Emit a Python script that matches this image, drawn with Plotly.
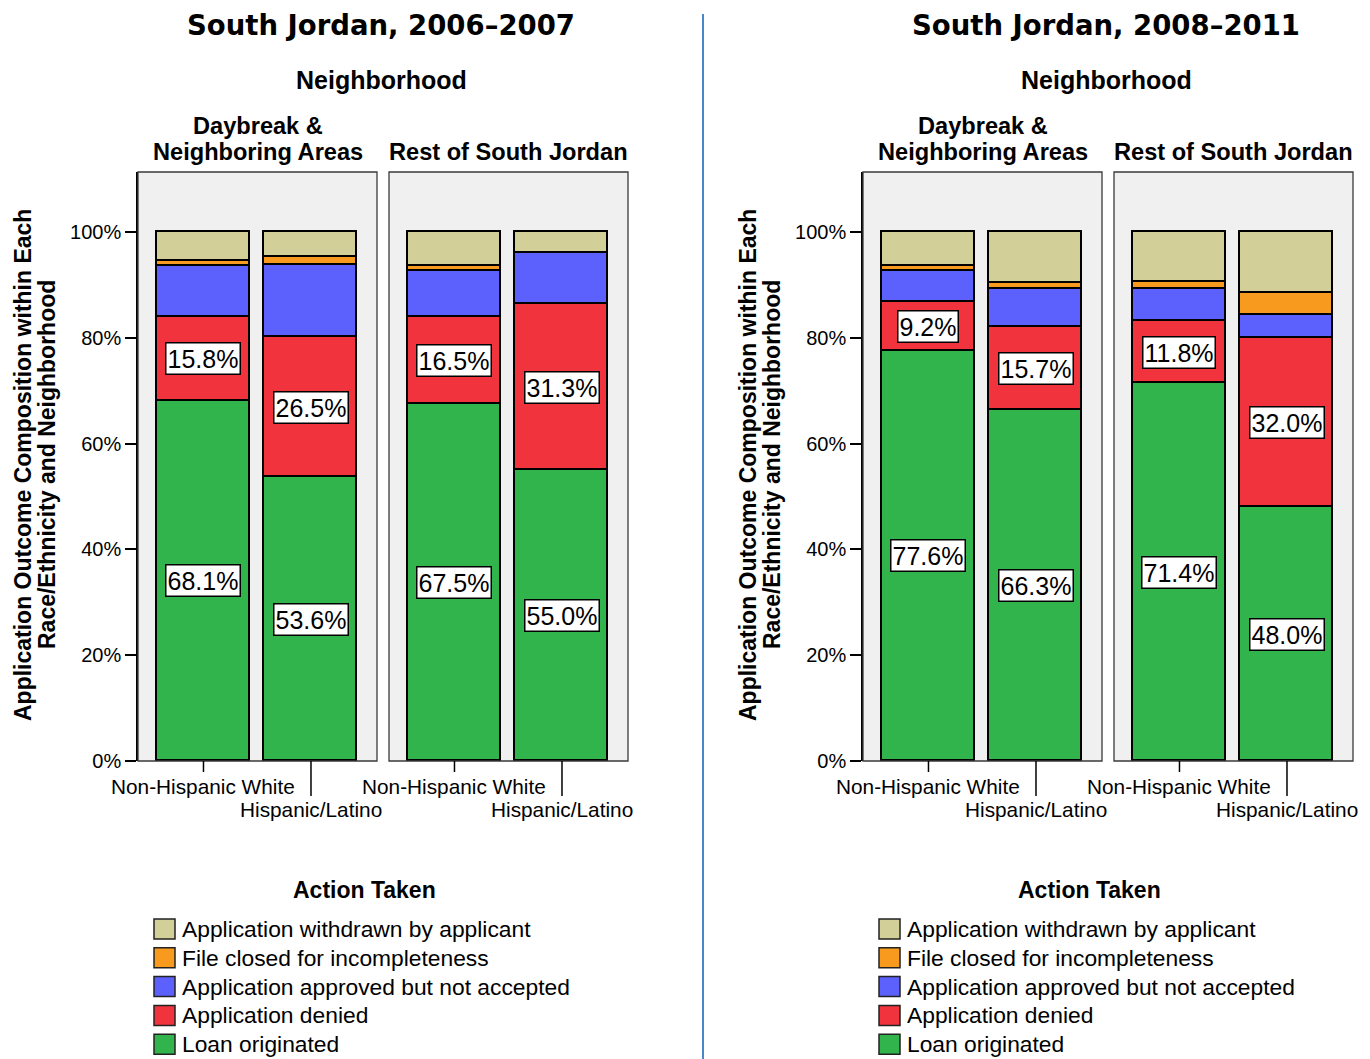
import plotly.graph_objects as go

# ---- data -------------------------------------------------------------
periods = ["2006–2007", "2008–2011"]
neighborhoods = [["Daybreak &", "Neighboring Areas"], ["Rest of South Jordan"]]
groups = ["Non-Hispanic White", "Hispanic/Latino"]
actions = [
    "Loan originated",
    "Application denied",
    "Application approved but not accepted",
    "File closed for incompleteness",
    "Application withdrawn by applicant",
]
# per period: [Daybreak NHW, Daybreak Hisp, Rest NHW, Rest Hisp] (percent)
loan_originated = [[68.1, 53.6, 67.5, 55.0], [77.6, 66.3, 71.4, 48.0]]
application_denied = [[15.8, 26.5, 16.5, 31.3], [9.2, 15.7, 11.8, 32.0]]
approved_not_accepted = [[9.7, 13.6, 8.6, 9.7], [5.8, 7.2, 6.0, 4.4]]
file_closed = [[1.0, 1.6, 0.9, 0.0], [1.0, 1.2, 1.3, 4.1]]
withdrawn = [[5.4, 4.7, 6.5, 4.0], [6.4, 9.6, 9.5, 11.5]]
labelled_series = [0, 1]  # series whose values are printed on the bars
y_ticks = [0, 20, 40, 60, 80, 100]

series = [loan_originated, application_denied, approved_not_accepted,
          file_closed, withdrawn]
colors = ["#30b44b", "#f1333d", "#5c60fd", "#f89a1e", "#d3cf99"]

# ---- page geometry (pixels) ------------------------------------------
W, H = 1370, 1059
def px(x):
    return x / W
def py(y):
    return 1 - y / H

HALF = 725                      # horizontal offset of second period block
panel_x = [(138, 377), (389, 628)]
plot_top, plot_bot = 172, 761
y_max = (plot_bot - plot_top) / 5.29   # 100% spans 529 px
x_range = [-0.609, 1.614]
bar_w = 0.865

SANS = "Liberation Sans, Arial, sans-serif"
WIDE = "DejaVu Sans, Verdana, sans-serif"

fig = go.Figure()
annotations = []
shapes = []

ax = 0
for p, period in enumerate(periods):
    off = HALF * p
    for n in range(2):
        ax += 1
        xa = "x" if ax == 1 else f"x{ax}"
        ya = "y" if ax == 1 else f"y{ax}"
        x0, x1 = panel_x[n]
        fig.layout[f"xaxis{'' if ax == 1 else ax}"] = dict(
            domain=[px(x0 + off), px(x1 + off)], range=x_range,
            anchor=ya, showgrid=False, zeroline=False, showticklabels=False,
            ticks="", fixedrange=True, automargin=False)
        first = n == 0
        fig.layout[f"yaxis{'' if ax == 1 else ax}"] = dict(
            domain=[py(plot_bot), py(plot_top)], range=[0, y_max],
            anchor=xa, showgrid=False, zeroline=False,
            showline=first, linecolor="black", linewidth=1.5,
            ticks="outside" if first else "", ticklen=11, tickwidth=1.5,
            tickcolor="black", tickvals=y_ticks,
            ticktext=[f"{v}%" for v in y_ticks], showticklabels=first,
            tickfont=dict(family=SANS, size=20, color="black"),
            fixedrange=True, automargin=False)

        # stacked bars
        for s, vals in enumerate(series):
            fig.add_trace(go.Bar(
                x=[0, 1], y=vals[p][2 * n:2 * n + 2], width=bar_w,
                xaxis=xa, yaxis=ya, name=actions[s], showlegend=False,
                marker=dict(color=colors[s],
                            line=dict(color="black", width=1.6))))

        # value boxes on originated / denied segments
        for g in range(2):
            base = 0.0
            for s in range(len(series)):
                v = series[s][p][2 * n + g]
                if s in labelled_series:
                    annotations.append(dict(
                        x=g, y=base + v / 2, xref=xa, yref=ya,
                        text=f"{v:.1f}%", showarrow=False,
                        font=dict(family=SANS, size=25, color="black"),
                        bgcolor="white", bordercolor="black",
                        borderwidth=1.5, borderpad=1))
                base += v

        # panel frame
        shapes.append(dict(type="rect", xref=f"{xa} domain",
                           yref=f"{ya} domain", x0=0, x1=1, y0=0, y1=1,
                           line=dict(color="#3a3a3a", width=1.3),
                           layer="above"))

        # category ticks (staggered) and labels
        for g, (tick_end, label_y) in enumerate([(772, 786), (796, 809)]):
            shapes.append(dict(type="line", xref=xa, yref="paper",
                               x0=g, x1=g, y0=py(plot_bot), y1=py(tick_end),
                               line=dict(color="black", width=1.5)))
            annotations.append(dict(
                x=g, y=py(label_y), xref=xa, yref="paper",
                text=groups[g], showarrow=False, xanchor="center",
                yanchor="middle",
                font=dict(family=SANS, size=20.8, color="black")))

        # neighborhood header (one annotation per line)
        cx = px((x0 + x1) / 2 + off)
        lines = neighborhoods[n]
        ys = [126, 152] if len(lines) == 2 else [152]
        for line, yy in zip(lines, ys):
            annotations.append(dict(
                x=cx, y=py(yy), xref="paper", yref="paper", text=f"<b>{line}</b>",
                showarrow=False, xanchor="center", yanchor="middle",
                font=dict(family=SANS, size=23.6, color="black")))

    # block title and grouping title
    annotations.append(dict(
        x=px(381 + off), y=py(25), xref="paper", yref="paper",
        text=f"<b>South Jordan, {period}</b>", showarrow=False,
        xanchor="center", yanchor="middle",
        font=dict(family=WIDE, size=27.5, color="black")))
    annotations.append(dict(
        x=px(381 + off), y=py(80), xref="paper", yref="paper",
        text="<b>Neighborhood</b>", showarrow=False,
        xanchor="center", yanchor="middle",
        font=dict(family=SANS, size=25, color="black")))

    # y-axis title (two rotated lines)
    for line, xx in [("Application Outcome Composition within Each", 23),
                     ("Race/Ethnicity and Neighborhood", 47)]:
        annotations.append(dict(
            x=px(xx + off), y=py(465), xref="paper", yref="paper",
            text=f"<b>{line}</b>", showarrow=False, textangle=-90,
            xanchor="center", yanchor="middle",
            font=dict(family=SANS, size=23, color="black")))

    # legend
    annotations.append(dict(
        x=px(364 + off), y=py(890), xref="paper", yref="paper",
        text="<b>Action Taken</b>", showarrow=False,
        xanchor="center", yanchor="middle",
        font=dict(family=SANS, size=23, color="black")))
    for i, s in enumerate(reversed(range(len(series)))):
        yc = 929 + i * 28.8
        shapes.append(dict(type="rect", xref="paper", yref="paper",
                           x0=px(154 + off), x1=px(175 + off),
                           y0=py(yc - 10), y1=py(yc + 10),
                           fillcolor=colors[s],
                           line=dict(color="#222222", width=1.5)))
        annotations.append(dict(
            x=px(180 + off), y=py(yc), xref="paper", yref="paper",
            text=actions[s], showarrow=False, xanchor="left",
            yanchor="middle",
            font=dict(family=SANS, size=22.8, color="black")))

# divider between the two periods
shapes.append(dict(type="line", xref="paper", yref="paper",
                   x0=px(703), x1=px(703), y0=py(14), y1=0,
                   line=dict(color="#4a86c8", width=2)))

fig.update_layout(
    width=W, height=H, margin=dict(l=0, r=0, t=0, b=0, pad=0),
    barmode="stack", bargap=0,
    paper_bgcolor="white", plot_bgcolor="#f0f0f0",
    annotations=annotations, shapes=shapes, showlegend=False)

fig.write_html("out.html", config={"displayModeBar": False})
